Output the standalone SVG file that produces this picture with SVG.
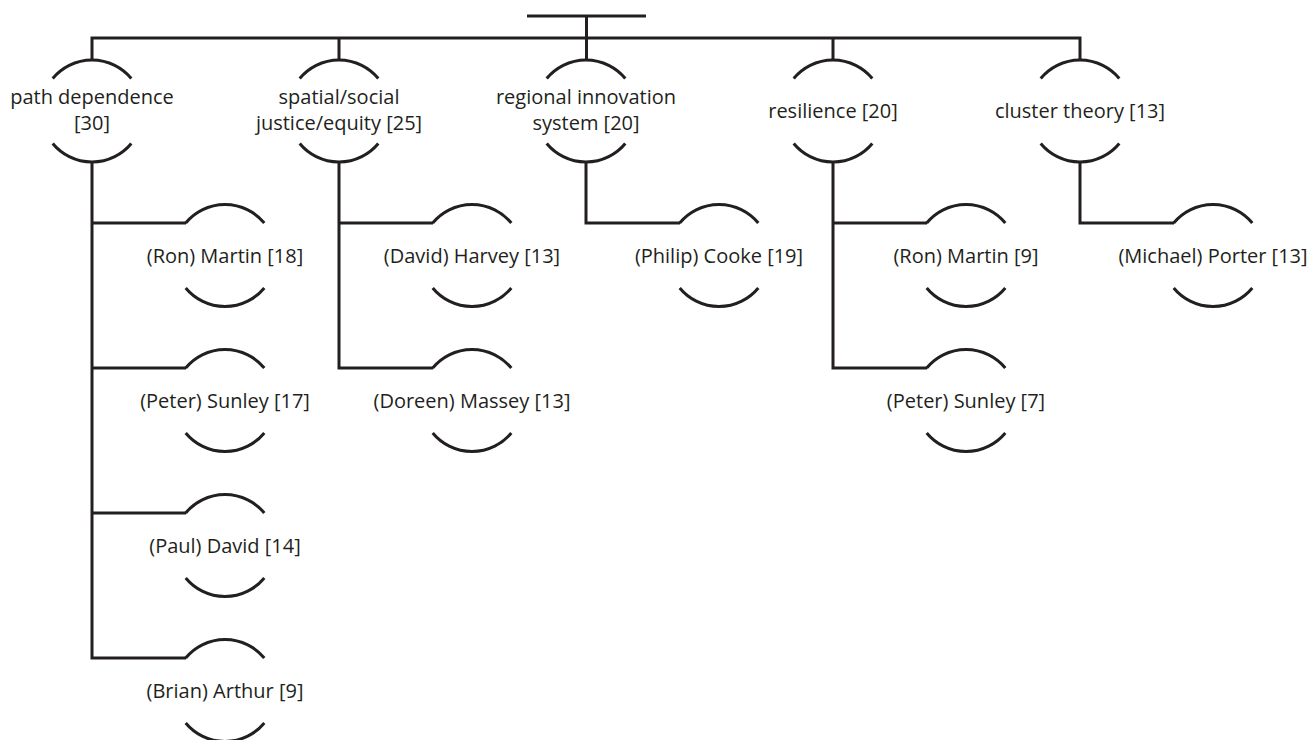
<svg xmlns="http://www.w3.org/2000/svg" xmlns:xlink="http://www.w3.org/1999/xlink" width="1311" height="740" viewBox="0 0 1311 740">
<style>
.ln{fill:none;stroke:#231f20;stroke-width:3;stroke-linecap:butt;stroke-linejoin:miter}
.t{font-family:"Open Sans","Noto Sans",sans-serif;font-size:20px;fill:#231f20;text-anchor:middle}
</style>
<defs>
<path id="ring" class="ln" d="M-39.3,-32.5 A51,51 0 0 1 39.3,-32.5 M-39.3,32.5 A51,51 0 0 0 39.3,32.5"/>
</defs>
<rect width="1311" height="740" fill="#fff"/>
<g id="connectors" class="ln">
<path d="M527,16 H646 M586.5,16 V60"/>
<path d="M92,60 V38 H1080 V60 M339,38 V60 M833,38 V60"/>
<path d="M92,162 V658 H186 M92,223 H186 M92,368 H186 M92,513 H186"/>
<path d="M339,162 V368 H433 M339,223 H433"/>
<path d="M586,162 V223 H680"/>
<path d="M833,162 V368 H927 M833,223 H927"/>
<path d="M1080,162 V223 H1174"/>
</g>
<g id="n-path"><use xlink:href="#ring" x="92" y="111"/><text class="t" x="92" y="104">path dependence</text><text class="t" x="92" y="130">[30]</text></g>
<g id="n-spatial"><use xlink:href="#ring" x="339" y="111"/><text class="t" x="339" y="104">spatial/social</text><text class="t" x="339" y="130">justice/equity [25]</text></g>
<g id="n-regional"><use xlink:href="#ring" x="586" y="111"/><text class="t" x="586" y="104">regional innovation</text><text class="t" x="586" y="130">system [20]</text></g>
<g id="n-resilience"><use xlink:href="#ring" x="833" y="111"/><text class="t" x="833" y="118">resilience [20]</text></g>
<g id="n-cluster"><use xlink:href="#ring" x="1080" y="111"/><text class="t" x="1080" y="118">cluster theory [13]</text></g>
<g id="n-martin1"><use xlink:href="#ring" x="225" y="255.5"/><text class="t" x="225" y="263">(Ron) Martin [18]</text></g>
<g id="n-sunley1"><use xlink:href="#ring" x="225" y="400.5"/><text class="t" x="225" y="408">(Peter) Sunley [17]</text></g>
<g id="n-david"><use xlink:href="#ring" x="225" y="545.5"/><text class="t" x="225" y="553">(Paul) David [14]</text></g>
<g id="n-arthur"><use xlink:href="#ring" x="225" y="690.5"/><text class="t" x="225" y="698">(Brian) Arthur [9]</text></g>
<g id="n-harvey"><use xlink:href="#ring" x="472" y="255.5"/><text class="t" x="472" y="263">(David) Harvey [13]</text></g>
<g id="n-massey"><use xlink:href="#ring" x="472" y="400.5"/><text class="t" x="472" y="408">(Doreen) Massey [13]</text></g>
<g id="n-cooke"><use xlink:href="#ring" x="719" y="255.5"/><text class="t" x="719" y="263">(Philip) Cooke [19]</text></g>
<g id="n-martin2"><use xlink:href="#ring" x="966" y="255.5"/><text class="t" x="966" y="263">(Ron) Martin [9]</text></g>
<g id="n-sunley2"><use xlink:href="#ring" x="966" y="400.5"/><text class="t" x="966" y="408">(Peter) Sunley [7]</text></g>
<g id="n-porter"><use xlink:href="#ring" x="1213" y="255.5"/><text class="t" x="1213" y="263">(Michael) Porter [13]</text></g>
</svg>
